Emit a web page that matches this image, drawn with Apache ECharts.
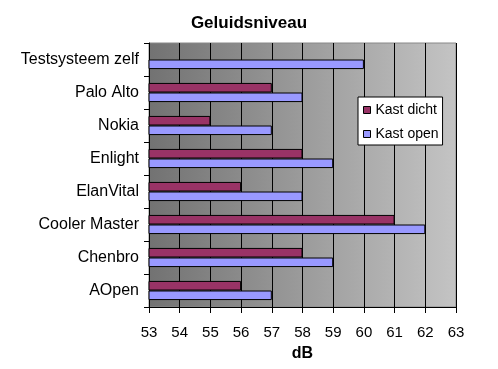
<!DOCTYPE html>
<html><head><meta charset="utf-8">
<script src="https://cdn.jsdelivr.net/npm/echarts@6/dist/echarts.min.js"></script>
<style>html,body{margin:0;padding:0;background:#fff}#c{width:498px;height:369px}</style>
</head><body><div id="c"></div>
<script>
const categories = ['AOpen','Chenbro','Cooler Master','ElanVital','Enlight','Nokia','Palo Alto','Testsysteem zelf'];
const kastDicht = [56, 58, 61, 56, 58, 55, 57, null];
const kastOpen  = [57, 59, 62, 58, 59, 57, 58, 60];
const xTicks = [53, 63, 1];

const chart = echarts.init(document.getElementById('c'));
const font = 'Liberation Sans, Arial, sans-serif';
chart.setOption({
  animation: false,
  title: { text: 'Geluidsniveau', left: 'center', top: 10,
    textStyle: { fontFamily: font, fontSize: 17, fontWeight: 'bold', color: '#000' } },
  legend: {
    orient: 'vertical', left: 358, top: 97, padding: [6, 4, 4, 5], itemGap: 10,
    backgroundColor: '#fff', borderColor: '#000', borderWidth: 1,
    itemWidth: 7, itemHeight: 7, icon: 'rect',
    textStyle: { fontFamily: font, fontSize: 14, color: '#000' },
    data: [{name: 'Kast dicht', itemStyle: {borderColor:'#000', borderWidth:1}}, {name: 'Kast open', itemStyle: {borderColor:'#000', borderWidth:1}}]
  },
  grid: { left: 149, right: 42, top: 43, bottom: 62, show: true, borderColor: '#888', borderWidth: 1,
    backgroundColor: new echarts.graphic.LinearGradient(0, 0, 1, 0, [
      {offset: 0, color: '#727272'}, {offset: 1, color: '#c4c4c4'}]) },
  xAxis: {
    type: 'value', min: xTicks[0], max: xTicks[1], interval: xTicks[2],
    name: 'dB', nameLocation: 'middle', nameGap: 39,
    nameTextStyle: { fontFamily: font, fontSize: 16, fontWeight: 'bold', color: '#000' },
    axisLine: { show: true, lineStyle: { color: '#000' } },
    axisTick: { show: true, length: 6, lineStyle: { color: '#000' } },
    axisLabel: { fontFamily: font, fontSize: 15, color: '#000', margin: 18 },
    splitLine: { show: true, lineStyle: { color: '#000', width: 1 } }
  },
  yAxis: {
    type: 'category', data: categories,
    axisLine: { show: true, lineStyle: { color: '#000' } },
    axisTick: { show: true, length: 5, lineStyle: { color: '#000' } },
    axisLabel: { fontFamily: font, fontSize: 16, color: '#000', margin: 10 },
    splitLine: { show: false }
  },
  series: [
    { name: 'Kast dicht', type: 'bar', data: kastDicht, barGap: '0%', barCategoryGap: '42%',
      itemStyle: { color: '#993366', borderColor: '#000', borderWidth: 1 } },
    { name: 'Kast open', type: 'bar', data: kastOpen,
      itemStyle: { color: '#9999FF', borderColor: '#000', borderWidth: 1 } }
  ]
});
</script></body></html>
